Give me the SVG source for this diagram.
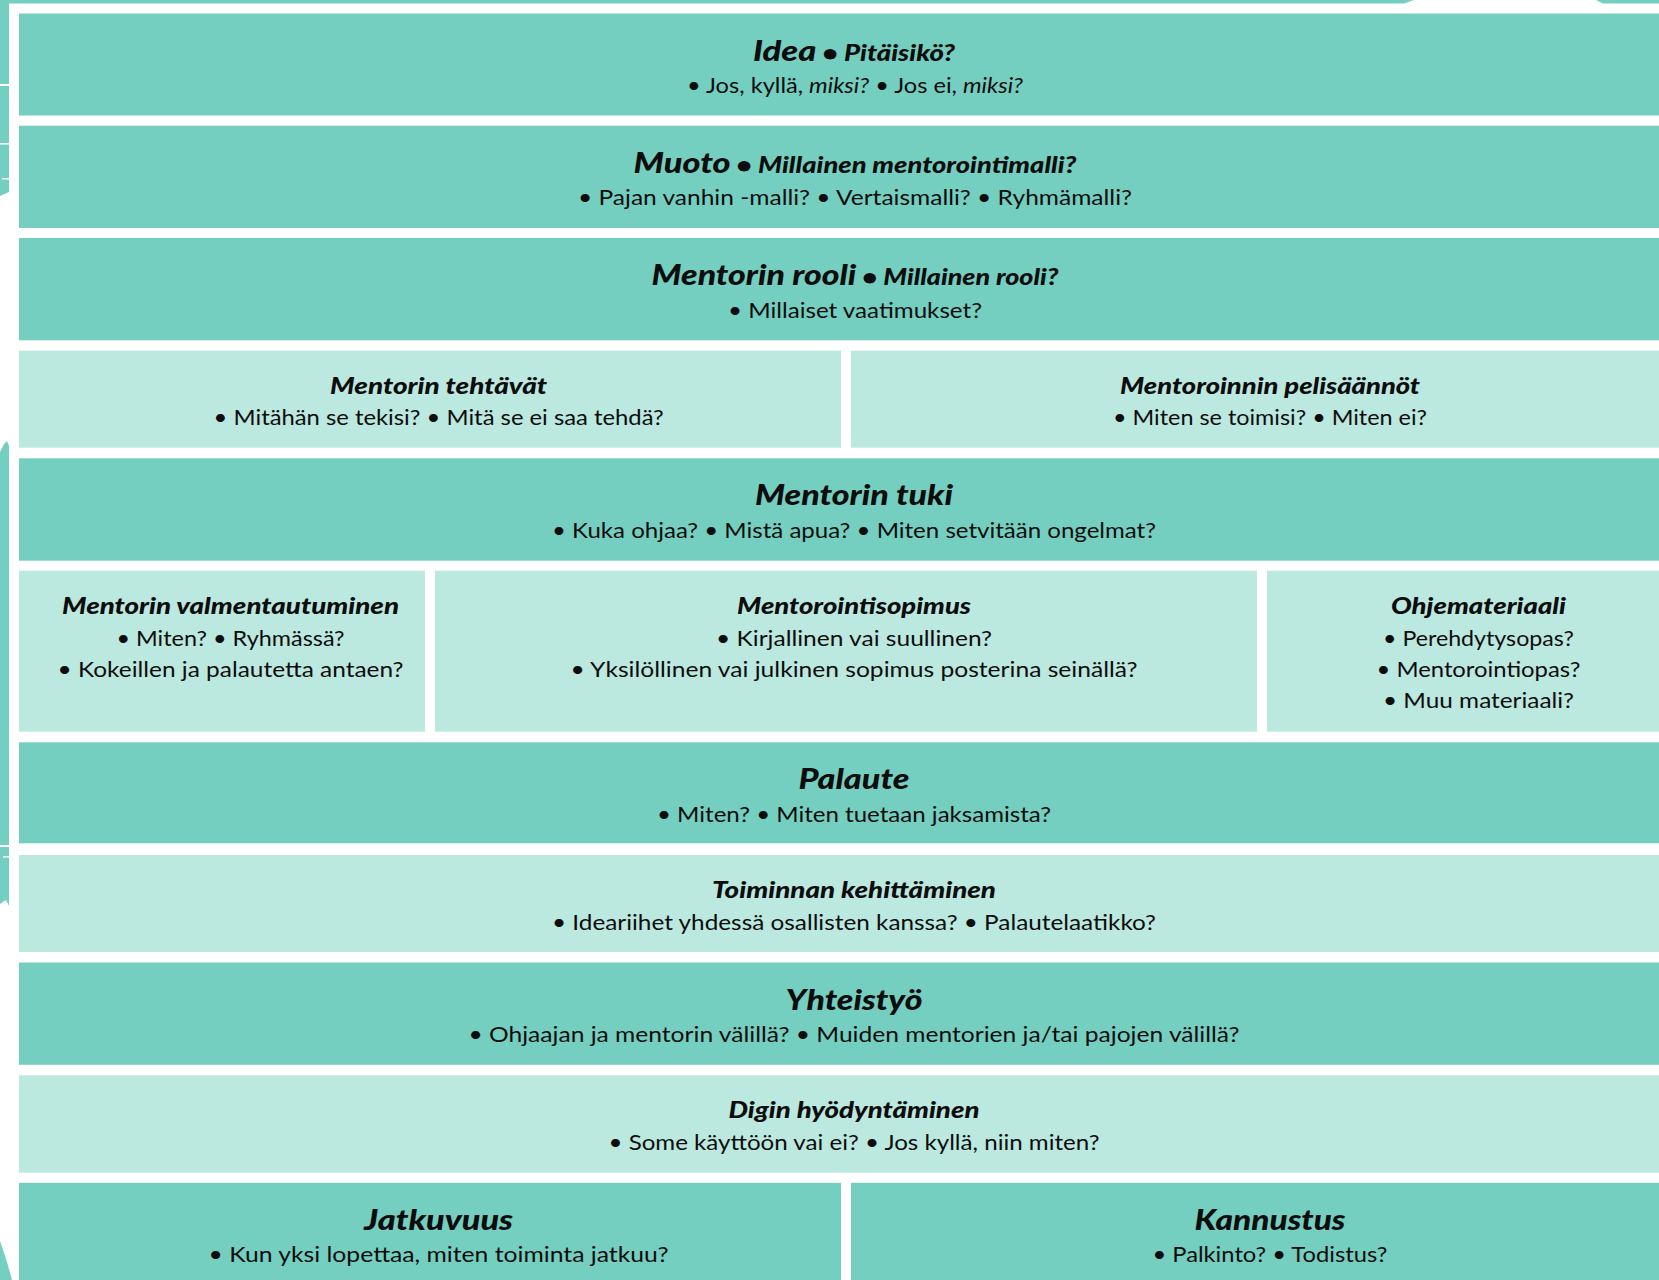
<svg xmlns="http://www.w3.org/2000/svg" width="1659" height="1280" viewBox="0 0 1659 1280">
<style>
.dark{fill:#74cfc0}
.light{fill:#bbe8df}
.brush{fill:#74cfc0}
text{font-family:Lato,"Open Sans","Noto Sans",sans-serif;fill:#0d0d0d;text-anchor:middle}
.t{font-weight:900;font-style:italic;font-size:29px}
.t2{font-weight:900;font-style:italic;font-size:23px}
.s{font-size:21.5px}
.i{font-style:italic}
</style>
<rect width="1659" height="1280" fill="#ffffff"/>
<g id="background-brush">
<polygon class="brush" points="0,0 1659,0 1659,3.5 1603,3.5 1596,0 1414,0 1404,3.5 9,3.5 9,192 0,196"/>
<polygon class="brush" points="0,452 4,444 7,441 9,446 9,906 6,900 0,904"/>
<polygon class="brush" points="0,1241 7,1262 12,1280 0,1280"/>
<g fill="#ffffff">
<rect x="0" y="84" width="9" height="2"/>
<rect x="0" y="143" width="9" height="1.5"/>
<rect x="2" y="178" width="7" height="1.5"/>
<rect x="0" y="845" width="9" height="2"/>
<rect x="3" y="856" width="6" height="1.5"/>
</g>
</g>
<g id="idea">
<rect class="dark" x="19" y="13.5" width="1640" height="102"/>
<text x="854" y="60.5" textLength="202" lengthAdjust="spacingAndGlyphs"><tspan class="t">Idea</tspan><tspan class="t2"> • Pitäisikö?</tspan></text>
<text class="s" x="855" y="93" textLength="336" lengthAdjust="spacingAndGlyphs">• Jos, kyllä, <tspan class="i">miksi?</tspan> • Jos ei, <tspan class="i">miksi?</tspan></text>
</g>
<g id="muoto">
<rect class="dark" x="19" y="125.7" width="1640" height="102.3"/>
<text x="855" y="172.6" textLength="443" lengthAdjust="spacingAndGlyphs"><tspan class="t">Muoto</tspan><tspan class="t2"> • Millainen mentorointimalli?</tspan></text>
<text class="s" x="855" y="205.2" textLength="554" lengthAdjust="spacingAndGlyphs">• Pajan vanhin -malli? • Vertaismalli? • Ryhmämalli?</text>
</g>
<g id="mentorin-rooli">
<rect class="dark" x="19" y="238" width="1640" height="102.3"/>
<text x="855" y="285" textLength="407" lengthAdjust="spacingAndGlyphs"><tspan class="t">Mentorin rooli</tspan><tspan class="t2"> • Millainen rooli?</tspan></text>
<text class="s" x="855" y="317.5" textLength="254" lengthAdjust="spacingAndGlyphs">• Millaiset vaatimukset?</text>
</g>
<g id="mentorin-tehtavat">
<rect class="light" x="19" y="350.7" width="822" height="97"/>
<text class="t2" x="438.6" y="393.7" textLength="217" lengthAdjust="spacingAndGlyphs">Mentorin tehtävät</text>
<text class="s" x="438.6" y="425" textLength="450" lengthAdjust="spacingAndGlyphs">• Mitähän se tekisi? • Mitä se ei saa tehdä?</text>
</g>
<g id="mentoroinnin-pelisaannot">
<rect class="light" x="851" y="350.7" width="808" height="97"/>
<text class="t2" x="1270" y="393.7" textLength="300" lengthAdjust="spacingAndGlyphs">Mentoroinnin pelisäännöt</text>
<text class="s" x="1270" y="425" textLength="314" lengthAdjust="spacingAndGlyphs">• Miten se toimisi? • Miten ei?</text>
</g>
<g id="mentorin-tuki">
<rect class="dark" x="19" y="458.3" width="1640" height="102.4"/>
<text class="t" x="854" y="505.3" textLength="198" lengthAdjust="spacingAndGlyphs">Mentorin tuki</text>
<text class="s" x="854" y="537.8" textLength="604" lengthAdjust="spacingAndGlyphs">• Kuka ohjaa? • Mistä apua? • Miten setvitään ongelmat?</text>
</g>
<g id="mentorin-valmentautuminen">
<rect class="light" x="19" y="570.7" width="406" height="161"/>
<text class="t2" x="230.5" y="613.5" textLength="337" lengthAdjust="spacingAndGlyphs">Mentorin valmentautuminen</text>
<text class="s" x="230.5" y="645.5" textLength="228" lengthAdjust="spacingAndGlyphs">• Miten? • Ryhmässä?</text>
<text class="s" x="230.5" y="676.5" textLength="346" lengthAdjust="spacingAndGlyphs">• Kokeillen ja palautetta antaen?</text>
</g>
<g id="mentorointisopimus">
<rect class="light" x="435" y="570.7" width="822" height="161"/>
<text class="t2" x="854" y="613.5" textLength="234" lengthAdjust="spacingAndGlyphs">Mentorointisopimus</text>
<text class="s" x="854" y="645.5" textLength="276" lengthAdjust="spacingAndGlyphs">• Kirjallinen vai suullinen?</text>
<text class="s" x="854" y="676.5" textLength="567" lengthAdjust="spacingAndGlyphs">• Yksilöllinen vai julkinen sopimus posterina seinällä?</text>
</g>
<g id="ohjemateriaali">
<rect class="light" x="1267" y="570.7" width="392" height="161"/>
<text class="t2" x="1478.5" y="613.5" textLength="175" lengthAdjust="spacingAndGlyphs">Ohjemateriaali</text>
<text class="s" x="1478.5" y="645.5" textLength="191" lengthAdjust="spacingAndGlyphs">• Perehdytysopas?</text>
<text class="s" x="1478.5" y="676.5" textLength="204" lengthAdjust="spacingAndGlyphs">• Mentorointiopas?</text>
<text class="s" x="1478.5" y="707.5" textLength="191" lengthAdjust="spacingAndGlyphs">• Muu materiaali?</text>
</g>
<g id="palaute">
<rect class="dark" x="19" y="742.3" width="1640" height="101"/>
<text class="t" x="854" y="789.3" textLength="111" lengthAdjust="spacingAndGlyphs">Palaute</text>
<text class="s" x="854" y="821.8" textLength="394" lengthAdjust="spacingAndGlyphs">• Miten? • Miten tuetaan jaksamista?</text>
</g>
<g id="toiminnan-kehittaminen">
<rect class="light" x="19" y="855" width="1640" height="97"/>
<text class="t2" x="854" y="898" textLength="284" lengthAdjust="spacingAndGlyphs">Toiminnan kehittäminen</text>
<text class="s" x="854" y="929.5" textLength="604" lengthAdjust="spacingAndGlyphs">• Ideariihet yhdessä osallisten kanssa? • Palautelaatikko?</text>
</g>
<g id="yhteistyo">
<rect class="dark" x="19" y="962.5" width="1640" height="102.3"/>
<text class="t" x="854" y="1009.5" textLength="137" lengthAdjust="spacingAndGlyphs">Yhteistyö</text>
<text class="s" x="854" y="1042" textLength="771" lengthAdjust="spacingAndGlyphs">• Ohjaajan ja mentorin välillä? • Muiden mentorien ja/tai pajojen välillä?</text>
</g>
<g id="digin-hyodyntaminen">
<rect class="light" x="19" y="1075.3" width="1640" height="97.4"/>
<text class="t2" x="854" y="1118.3" textLength="251" lengthAdjust="spacingAndGlyphs">Digin hyödyntäminen</text>
<text class="s" x="854" y="1149.8" textLength="491" lengthAdjust="spacingAndGlyphs">• Some käyttöön vai ei? • Jos kyllä, niin miten?</text>
</g>
<g id="jatkuvuus">
<rect class="dark" x="19" y="1182.8" width="822" height="110"/>
<text class="t" x="438.6" y="1229.8" textLength="149" lengthAdjust="spacingAndGlyphs">Jatkuvuus</text>
<text class="s" x="438.6" y="1262.3" textLength="460" lengthAdjust="spacingAndGlyphs">• Kun yksi lopettaa, miten toiminta jatkuu?</text>
</g>
<g id="kannustus">
<rect class="dark" x="851" y="1182.8" width="808" height="110"/>
<text class="t" x="1270" y="1229.8" textLength="151" lengthAdjust="spacingAndGlyphs">Kannustus</text>
<text class="s" x="1270" y="1262.3" textLength="235" lengthAdjust="spacingAndGlyphs">• Palkinto? • Todistus?</text>
</g>
</svg>
